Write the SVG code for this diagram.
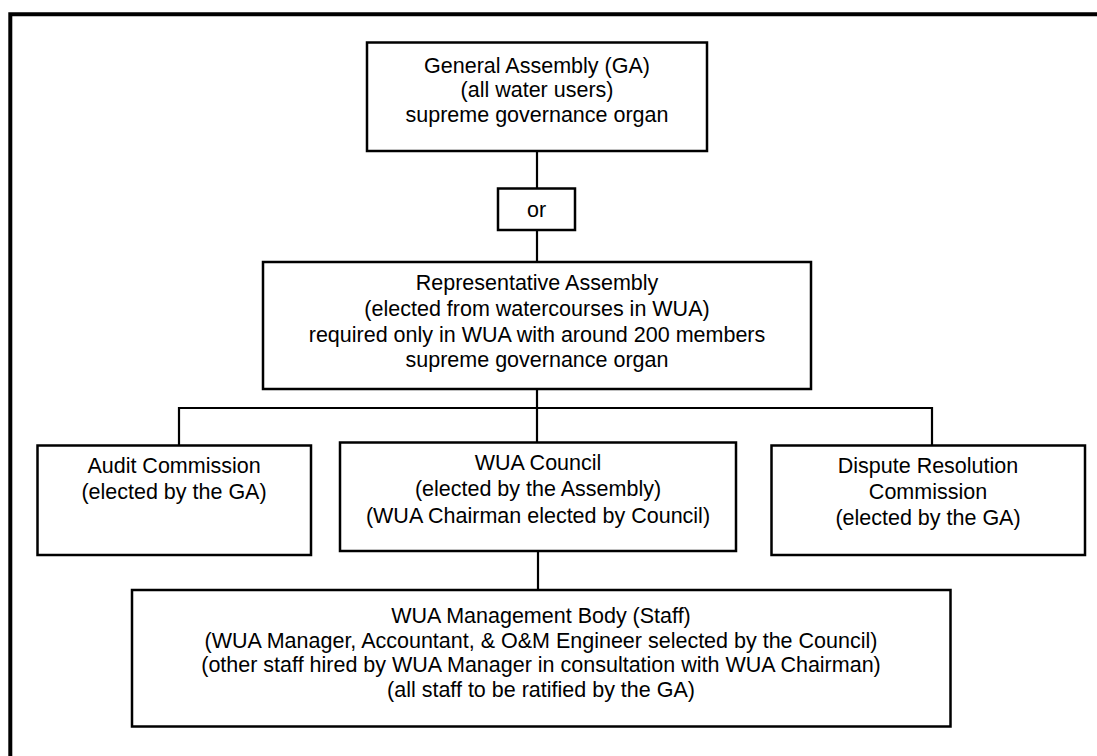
<svg xmlns="http://www.w3.org/2000/svg" width="1097" height="756" viewBox="0 0 1097 756">
<style>
.box{fill:#fff;stroke:#000;stroke-width:2.5}
.ln{fill:none;stroke:#000;stroke-width:2.2}
text{font-family:"Liberation Sans",Arial,Helvetica,sans-serif;font-size:21.5px;fill:#000;text-anchor:middle}
</style>
<rect x="0" y="0" width="1097" height="756" fill="#fff"/>
<path d="M10.3,760 V14.3 H1100" fill="none" stroke="#000" stroke-width="4"/>
<g id="connectors">
<path class="ln" d="M537,151 V188"/>
<path class="ln" d="M537,230 V262"/>
<path class="ln" d="M537,389 V442"/>
<path class="ln" d="M179,445 V408 H932 V445" stroke-width="1.8"/>
<path class="ln" d="M538,551 V590"/>
</g>
<g id="ga">
<rect class="box" x="367" y="42.5" width="340" height="108.5"/>
<text x="537" y="72.5">General Assembly (GA)</text>
<text x="537" y="97">(all water users)</text>
<text x="537" y="122">supreme governance organ</text>
</g>
<g id="or">
<rect class="box" x="498" y="188.5" width="77" height="41.5"/>
<text x="536.5" y="217">or</text>
</g>
<g id="ra">
<rect class="box" x="263" y="262" width="548" height="127"/>
<text x="537" y="290">Representative Assembly</text>
<text x="537" y="315.5">(elected from watercourses in WUA)</text>
<text x="537" y="341.5">required only in WUA with around 200 members</text>
<text x="537" y="367">supreme governance organ</text>
</g>
<g id="audit">
<rect class="box" x="37.5" y="445.5" width="273.5" height="109.5"/>
<text x="174" y="473">Audit Commission</text>
<text x="174" y="498.5">(elected by the GA)</text>
</g>
<g id="council">
<rect class="box" x="340" y="442.5" width="396" height="108.5"/>
<text x="538" y="470">WUA Council</text>
<text x="538" y="496">(elected by the Assembly)</text>
<text x="538" y="522.5">(WUA Chairman elected by Council)</text>
</g>
<g id="dispute">
<rect class="box" x="771.5" y="445.5" width="313.5" height="109.5"/>
<text x="928" y="473">Dispute Resolution</text>
<text x="928" y="499">Commission</text>
<text x="928" y="524.5">(elected by the GA)</text>
</g>
<g id="mgmt">
<rect class="box" x="132" y="590" width="818.5" height="136.5"/>
<text x="541" y="623">WUA Management Body (Staff)</text>
<text x="541" y="647.5">(WUA Manager, Accountant, &amp; O&amp;M Engineer selected by the Council)</text>
<text x="541" y="672">(other staff hired by WUA Manager in consultation with WUA Chairman)</text>
<text x="541" y="696.5">(all staff to be ratified by the GA)</text>
</g>
</svg>
